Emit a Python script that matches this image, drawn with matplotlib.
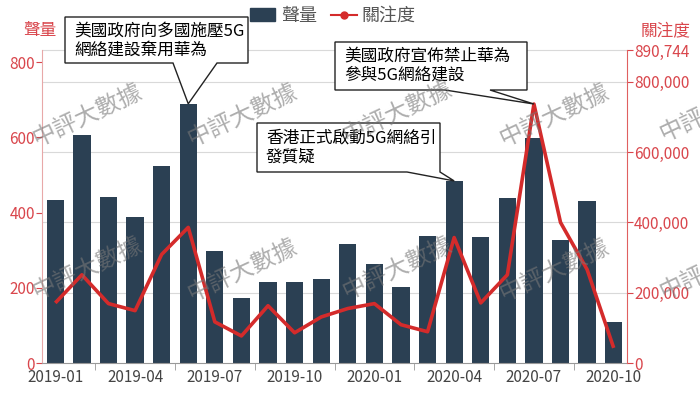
import matplotlib
matplotlib.use("Agg")
import matplotlib.pyplot as plt
from matplotlib.patches import Patch, Polygon
from matplotlib.lines import Line2D
from matplotlib.ticker import FuncFormatter

plt.rcParams['font.family'] = ['Noto Sans CJK TC', 'DejaVu Sans']

months = ['2019-01', '2019-02', '2019-03', '2019-04', '2019-05', '2019-06',
          '2019-07', '2019-08', '2019-09', '2019-10', '2019-11', '2019-12',
          '2020-01', '2020-02', '2020-03', '2020-04', '2020-05', '2020-06',
          '2020-07', '2020-08', '2020-09', '2020-10']
volume = [433, 606, 440, 388, 524, 689, 299, 174, 216, 216, 223, 316,
          263, 202, 338, 484, 335, 439, 597, 326, 431, 109]
attention = [171000, 251000, 169000, 149000, 309000, 386000, 117000, 77000,
             163000, 86000, 131000, 155000, 169000, 109000, 89000, 357000,
             171000, 251000, 737000, 400000, 266000, 43000]
vol_ticks = [0, 200, 400, 600, 800]
att_ticks = [0, 200000, 400000, 600000, 800000, 890744]
vol_max = 832
att_max = 890744

notes = ['美國政府向多國施壓5G\n網絡建設棄用華為',
         '美國政府宣佈禁止華為\n參與5G網絡建設',
         '香港正式啟動5G網絡引\n發質疑']

BAR = '#2b4053'
RED = '#d42b2b'
AXRED = '#d9464c'

W, H = 700, 399
fig = plt.figure(figsize=(W / 100, H / 100), dpi=100)
ax = fig.add_axes([42 / W, 1 - 363 / H, 585 / W, 313 / H])
ax2 = ax.twinx()

x = list(range(len(months)))
ax.bar(x, volume, width=0.65, color=BAR, zorder=2)
ax2.plot(x, attention, color=RED, lw=2.6, solid_capstyle='butt', zorder=3)

ax.set_xlim(-0.5, len(months) - 0.5)
ax.set_ylim(0, vol_max)
ax2.set_ylim(0, att_max)

# grid follows right axis ticks, drawn behind bars
ax.hlines(att_ticks[1:], -0.5, len(months) - 0.5, transform=ax2.transData,
          color='#d9d9d9', lw=0.8, zorder=0, clip_on=False)

ax.set_xticks(x[::3])
ax.set_xticklabels(months[::3])
ax.set_xticks([i + 1.5 for i in x[::3][:-1]], minor=True)
ax.tick_params(axis='x', which='major', length=0, labelsize=11, labelcolor='#444', pad=4)
ax.tick_params(axis='x', which='minor', length=5, color='#999')

ax.set_yticks(vol_ticks)
ax.tick_params(axis='y', length=4, color=AXRED, labelcolor=AXRED, labelsize=11, pad=1)
ax2.set_yticks(att_ticks)
ax2.yaxis.set_major_formatter(FuncFormatter(lambda v, p: f'{int(v):,}'))
ax2.tick_params(axis='y', length=4, color=AXRED, labelcolor=AXRED, labelsize=11, pad=1)

for a in (ax, ax2):
    a.spines['top'].set_visible(False)
ax.spines['right'].set_visible(False)
ax.spines['left'].set_color('#e8a8a8')
ax.spines['bottom'].set_color('#999')
ax2.spines['left'].set_visible(False)
ax2.spines['bottom'].set_visible(False)
ax2.spines['right'].set_color('#e06060')

fig.text(40 / W, 1 - 30 / H, '聲量', color=AXRED, fontsize=12, ha='center', va='center')
fig.text(666 / W, 1 - 31 / H, '關注度', color=AXRED, fontsize=12, ha='center', va='center')

handles = [Patch(color=BAR), Line2D([], [], color=RED, lw=1.5, marker='o', ms=5)]
fig.legend(handles, ['聲量', '關注度'], loc='center', bbox_to_anchor=(333 / W, 1 - 16 / H),
           ncol=2, frameon=False, fontsize=13, labelcolor='#555', handlelength=1.4,
           handletextpad=0.3, columnspacing=0.8)


def callout(text, box, base, tip_disp):
    l, t, r, b = box
    tx, ty = fig.transFigure.inverted().transform(tip_disp)
    pts = [(l / W, 1 - t / H), (r / W, 1 - t / H), (r / W, 1 - b / H),
           (base[1] / W, 1 - b / H), (tx, ty), (base[0] / W, 1 - b / H),
           (l / W, 1 - b / H)]
    fig.patches.append(Polygon(pts, closed=True, transform=fig.transFigure,
                               fc='white', ec='#222', lw=1.0, zorder=5))
    fig.text((l + 9) / W, 1 - (t + 6) / H, text, fontsize=12, color='black',
             ha='left', va='top', linespacing=1.15, zorder=6, fontweight='medium')


callout(notes[0], (65, 17, 248, 63), (173, 217), ax.transData.transform((5, volume[5])))
callout(notes[1], (335, 42, 527, 90), (445, 490), ax2.transData.transform((18, attention[18])))
callout(notes[2], (257, 123, 440, 172), (407, 440), ax.transData.transform((15, volume[15])))

for cx, cy in [(88, 115), (243, 115), (398, 112), (555, 115), (715, 110),
               (88, 268), (243, 270), (398, 268), (555, 270), (715, 268)]:
    fig.text(cx / W, 1 - cy / H, '中評大數據', fontsize=17, color='#777', alpha=0.6,
             rotation=25, ha='center', va='center', zorder=7)

fig.savefig('out.png', dpi=100)
